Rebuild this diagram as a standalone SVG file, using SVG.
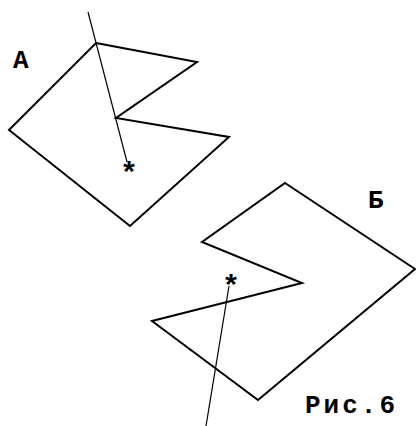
<svg xmlns="http://www.w3.org/2000/svg" width="416" height="426" viewBox="0 0 416 426">
<style>
.poly{fill:none;stroke:#000;stroke-width:2;stroke-linejoin:miter}
.ray{stroke:#000;stroke-width:1.2;fill:none}
.lbl{font-family:'Liberation Mono',monospace;font-weight:bold;fill:#000}
</style>
<rect width="416" height="426" fill="#fff"/>
<g id="figA">
<polygon class="poly" points="96,43 197,62 116,118 229,137 130,226 9,130"/>
<text class="lbl" x="13" y="68" font-size="26">А</text>
</g>
<g id="figB">
<polygon class="poly" points="285,183 415,269 258,400 152,321 302,283 202,242"/>
<text class="lbl" x="368" y="208" font-size="26">Б</text>
</g>
<g id="caption">
<text class="lbl" x="305" y="413" font-size="26" letter-spacing="3">Рис.6</text>
</g>
<g id="connectors">
<line class="ray" x1="88" y1="12" x2="127" y2="162"/>
<line class="ray" x1="206" y1="426" x2="229" y2="286"/>
<text class="lbl" x="120" y="183" font-size="30">*</text>
<text class="lbl" x="222" y="296" font-size="30">*</text>
</g>
</svg>
